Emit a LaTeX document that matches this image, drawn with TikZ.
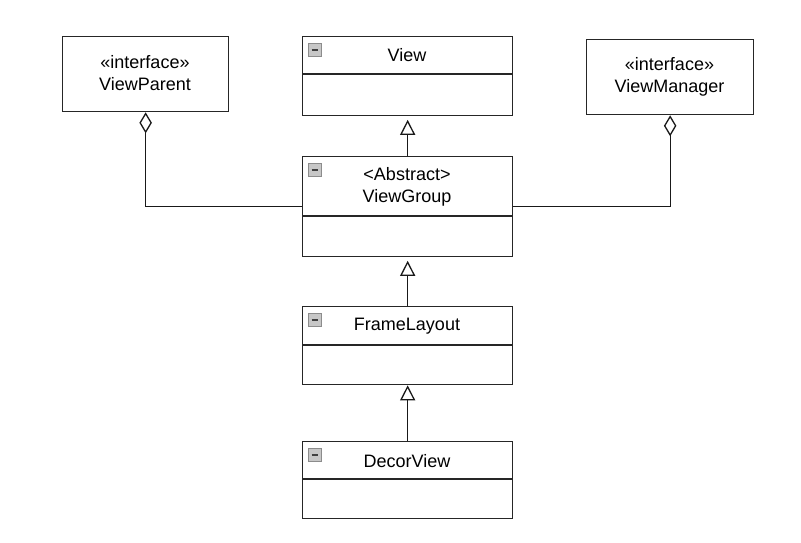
\documentclass[tikz,border=0pt]{standalone}
\usepackage{fontspec}
\setmainfont{Liberation Sans}
\usetikzlibrary{arrows.meta}
\begin{document}
\begin{tikzpicture}[x=1pt,y=-1pt,
  box/.style={draw=black!85, line width=1.3pt, fill=white, minimum width=210pt, inner sep=0pt, anchor=north west},
  ibox/.style={draw=black!85, line width=1.3pt, fill=white, inner sep=0pt, anchor=north west, minimum height=75pt},
  div/.style={draw=black!85, line width=1.3pt},
  title/.style={font=\fontsize{18}{22}\selectfont, align=center, inner sep=0pt, text=black},
  minusicon/.style={draw=black!45, fill=black!22, line width=0.8pt, minimum size=12.5pt, inner sep=0pt,
    path picture={\draw[black!75, line width=1.7pt] ([xshift=2.8pt]path picture bounding box.west) -- ([xshift=-2.8pt]path picture bounding box.east);}},
  gen/.style={draw=black!90, line width=1.3pt, -{Triangle[length=15pt, width=15pt, fill=white]}},
  agg/.style={draw=black!90, line width=1.3pt, -{Diamond[length=21pt, width=12.5pt, fill=white]}}
]
\useasboundingbox (0,0) rectangle (801,542);

% View
\node[box, minimum height=79pt] (view) at (302,36) {};
\draw[div] ([yshift=-38pt]view.north west) -- ([yshift=-38pt]view.north east);
\node[minusicon] (viewicon) at (315,50) {};
\node[title] (viewt) at (407,55) {View};

% ViewGroup
\node[box, minimum height=100pt] (vg) at (302,156) {};
\draw[div] ([yshift=-60pt]vg.north west) -- ([yshift=-60pt]vg.north east);
\node[minusicon] (vgicon) at (315,170) {};
\node[title] (vgt) at (407,186.5) {<Abstract>\\ViewGroup};

% FrameLayout
\node[box, minimum height=78pt] (fl) at (302,306) {};
\draw[div] ([yshift=-39pt]fl.north west) -- ([yshift=-39pt]fl.north east);
\node[minusicon] (flicon) at (315,320) {};
\node[title] (flt) at (407,326) {FrameLayout};

% DecorView
\node[box, minimum height=77pt] (dv) at (302,441) {};
\draw[div] ([yshift=-38pt]dv.north west) -- ([yshift=-38pt]dv.north east);
\node[minusicon] (dvicon) at (315,455) {};
\node[title] (dvt) at (407,461) {DecorView};

% ViewParent
\node[ibox, minimum width=166pt] (vp) at (62,36) {};
\node[title] (vpt) at (145,73) {«interface»\\ViewParent};

% ViewManager
\node[ibox, minimum width=167pt] (vm) at (586,39) {};
\node[title] (vmt) at (669.5,77) {«interface»\\ViewManager};

% connectors
\draw[gen, shorten >=3.5pt] (vg.north) -- (view.south);
\draw[gen, shorten >=3.5pt] (fl.north) -- (vg.south);
\draw[gen] (dv.north) -- (fl.south);
\draw[agg] (vg.west) -| (vp.south);
\draw[agg] (vg.east) -| (vm.south);
\end{tikzpicture}
\end{document}
